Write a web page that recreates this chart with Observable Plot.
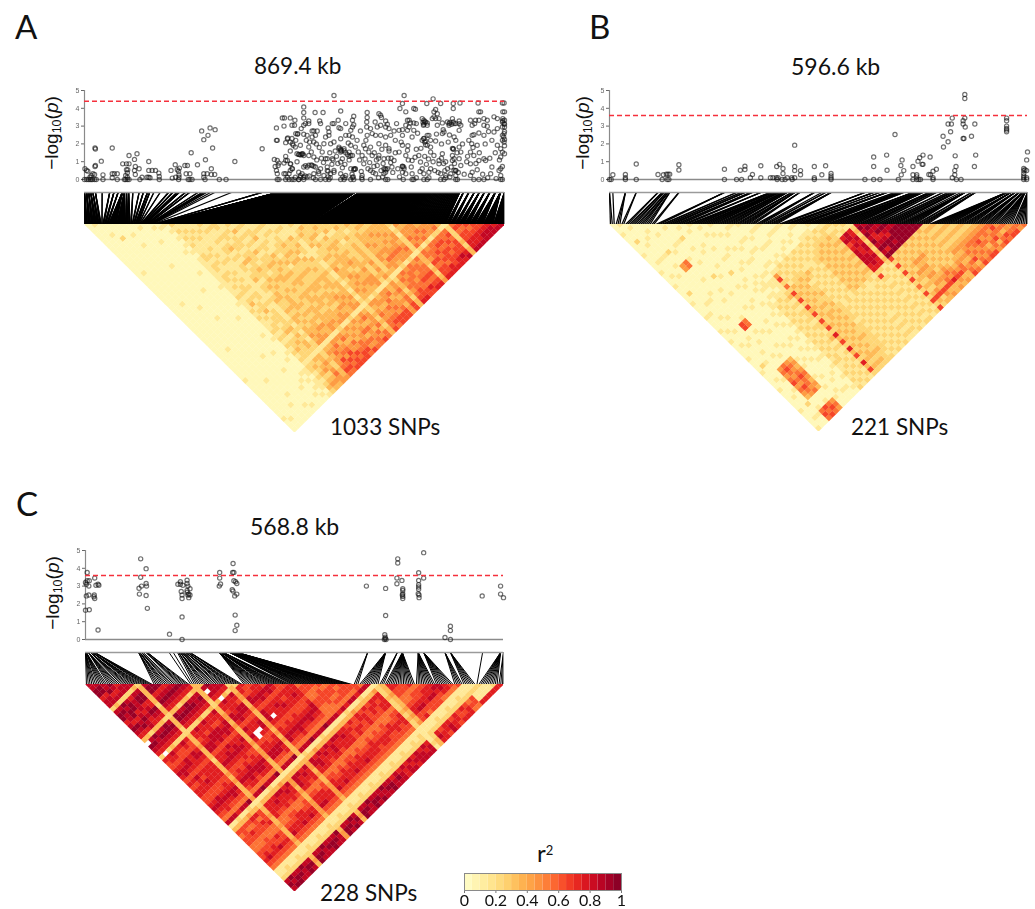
<!DOCTYPE html>
<html>
<head>
<meta charset="utf-8">
<script src="https://cdn.jsdelivr.net/npm/d3@7"></script>
<script src="https://cdn.jsdelivr.net/npm/@observablehq/plot@0.6"></script>
<style>
html,body{margin:0;padding:0;background:#fff}
#page{position:relative;width:1035px;height:909px;overflow:hidden;font-family:Lato,"Open Sans",sans-serif;color:#111}
#page svg{position:absolute;background:transparent;overflow:visible;font-family:"Liberation Sans",sans-serif;filter:blur(0.35px)}
.t{position:absolute;white-space:nowrap;line-height:1}
.yl{position:absolute;white-space:nowrap;line-height:1;font-family:"Liberation Sans",sans-serif;font-size:19px;transform:translate(-50%,-50%) rotate(-90deg)}
.yl sub{font-size:12.5px;vertical-align:-3px;line-height:0}
</style>
</head>
<body>
<div id="page"></div>
<script>
// Positions are % of each panel's genomic window; values are -log10(p).
const panelLetters = ["A","B","C"];
const spans = ["869.4 kb","596.6 kb","568.8 kb"];
const snpTotals = ["1033 SNPs","221 SNPs","228 SNPs"];
const thresholds = [4.4,3.6,3.6];
const yTicks = [0,1,2,3,4,5];
const legendTicks = [0,0.2,0.4,0.6,0.8,1];
const r2Bins = [0,0.05,0.1,0.15,0.2,0.25,0.3,0.35,0.4,0.45,0.5,0.55,0.6,0.65,0.7,0.75,0.8,0.85,0.9,0.95];

const snpA = [[.1,.6],[.5,.51],[.8,.47],[0,0],[.5,0],[.9,0],[1.3,0],[1.6,0],[1.9,0],[2.4,0],[2.8,0],[1.3,.13],[1.6,.23],[2,.32],[2.4,.28],[2.5,1.77],[2.6,1.71],[2.6,.79],[2.5,.73],[4,1.03],[4.4,.26],[4.4,0],[6.6,1.77],[6.6,.32],[7.1,.32],[7.8,.32],[6.6,.1],[7.8,0],[9.1,.88],[10,.88],[10.6,.88],[10.6,1.35],[10,.55],[10.3,.55],[10.2,.38],[9.8,.23],[10.2,.13],[9.5,0],[9.8,0],[10.2,0],[10.6,0],[11.9,1.13],[12.5,1.45],[12.1,.73],[13,.6],[11.9,.51],[12.1,.28],[13.2,0],[13.7,.13],[14.9,.13],[15.3,.13],[15.6,.1],[15.3,1.01],[15.3,.51],[16.1,.51],[16.9,.51],[17.7,.36],[17.8,.17],[17.8,0],[20.6,.51],[21.6,.83],[22.1,.55],[22.6,.64],[22.4,.47],[22.5,.26],[22.5,.13],[22.4,0],[20.9,.08],[21.7,.13],[23.9,.79],[24.5,.79],[24.2,.32],[25.1,.32],[24.7,0],[25.1,0],[25.6,0],[25.4,1.5],[26.9,.83],[27.9,2.73],[28.4,2.24],[29.4,2.48],[29.9,2.9],[31.1,2.8],[30.5,1.77],[28.8,1.11],[30.2,.6],[28.4,.32],[29.2,.32],[30.2,.28],[31,.28],[28.4,.13],[28.7,0],[32.1,0],[33.7,0],[35.8,1.01],[42.3,1.73],
[45.7,2.9],[47.1,3.46],[47.6,3.46],[49,3.46],[50.1,3.33],[49.4,3.05],[50,3.05],[47.5,3],[45.7,2.2],[45.9,2.2],[45.2,1.13],[45.9,1.07],[46.1,.79],[45.4,.73],[45.7,.51],[45.9,.32],[45.9,0],[47.9,1.3],[47.9,1.07],[47.5,.92],[49,1.6],[49.7,1.92],[50.2,1.82],[49,2.1],[47.9,2.07],[48.4,2.33],[50.8,2.58],[49.4,2.3],[49,.88],[49.4,.6],[47.9,.32],[49,.51],[50.2,.13],[47.9,0],[48.3,.13],[49.4,0],[51,0],[50.6,1.45],[50.6,1],
[59.4,4.72],[76.1,4.72],[83,4.53],[75.7,4.27],[81.5,4.27],[84.8,4.27],[87.8,4.27],[89.4,4.3],[93.7,4.3],[99.5,4.3],[99.9,4.3],[75.1,3.99],[78.4,3.99],[78.8,3.95],[87.8,3.99],[52.2,4.08],[52.2,3.76],[52.2,3.46],[54.9,3.76],[56.8,3.76],[61,3.85],[67.3,3.76],[67.3,3.48],[70.1,3.7],[70.5,3.61],[70.7,3.48],[76.5,3.8],[83.2,3.8],[83.6,3.93],[84,3.7],[93.9,3.8],[94.3,3.8],[99.6,3.8],[100,3.8],[53.4,3.29],[56,3.29],[56.2,3.14],[60.4,3.33],[59.4,3.14],[64.1,3.55],[63.8,3.33],[62.2,3.14],[64.1,3.08],[67.2,3.23],[67.2,2.95],[69.2,3.23],[71.7,3.29],[72.1,3.1],[74.3,3.14],[76.9,3.33],[77.3,3.33],[77.6,3.18],[78.4,3.18],[79,3.14],[80.4,3.42],[80.8,3.33],[81.2,3.23],[81.6,3.18],[80.7,3.05],[81.6,3.05],[83.2,3.52],[82.8,3.42],[83.6,3.42],[84.4,3.42],[85.2,3.18],[84,3.05],[86.4,3.23],[87.6,3.42],[87.8,3.23],[88.4,3.14],[89.2,3.29],[89.2,3.14],[91.9,3.33],[93.1,3.33],[92.3,3.05],[92.9,3.14],[93.9,3.33],[95.1,3.42],[95.9,3.33],[97.5,3.52],[98.3,3.42],[99.6,3.42],[100,3.33],[99.5,3.23],[99.9,3.14],
[52.6,3.14],[53.4,3.14],[52.2,3.05],[51.6,2.86],[54.6,2.73],[55.4,2.73],[54.2,2.73],[58,2.9],[59,3.14],[58.2,2.67],[60.6,2.91],[61,2.86],[63.8,2.95],[65.7,2.73],[63.4,2.76],[62.2,2.48],[68.1,2.86],[69.7,2.95],[70.5,3.05],[71.7,2.95],[72.5,2.86],[73.7,2.73],[74.9,2.76],[75.7,2.8],[76.5,3.05],[76.9,2.76],[77.3,2.95],[78.4,2.76],[81.6,2.48],[82,2.48],[85.4,2.8],[85.6,2.67],[86.8,3.05],[88,3.14],[89.6,3.05],[89.2,2.76],[92.3,2.48],[92.7,2.52],[93.9,2.61],[95.1,3.05],[95.9,2.99],[97.5,2.67],[98.3,2.86],[99.5,2.95],[100,2.95],[99.9,2.58],[99.5,2.48],[99.5,2.2],[99.9,2.11],
[50.3,2.58],[50.7,2.54],[52.2,2.54],[53,2.48],[54.2,2.39],[55,2.48],[57.4,2.39],[58.2,2.48],[59.4,2.11],[61,2.29],[63,2.48],[63.8,2.39],[67.3,2.48],[68.5,2.58],[69.3,2.48],[70.5,2.48],[71.7,2.39],[72.9,2.48],[75.7,2.48],[78,2.39],[80.8,2.29],[82.4,2.2],[83.6,2.16],[85.2,2.58],[88,2.39],[88.4,2.2],[91.5,2.2],[92.2,2.01],[93.5,1.92],[95.1,2.48],[98.3,1.92],[99.1,1.73],[99.5,1.54],
[48.3,2.29],[49.5,2.01],[51.4,1.92],[50.3,2.2],[53.4,1.82],[54.6,2.11],[57,2.01],[58.6,2.01],[60.6,1.82],[61,1.64],[61.8,1.73],[63.4,1.92],[64.5,1.82],[66.5,1.92],[66.9,1.73],[68.1,1.82],[70.1,2.01],[71.7,1.92],[72.5,1.73],[75.7,1.92],[76.9,1.64],[80.4,2.2],[81.2,2.16],[81.6,1.92],[82.4,1.82],[85.2,1.45],[87.8,1.73],[89.2,1.82],[89.6,1.54],[91.9,1.54],[92.7,1.35],[95.1,1.17],[95.5,1.07],[99.1,1.26],
[51.8,1.45],[51,1.41],[52.2,1.35],[53.4,1.35],[54.6,1.26],[56.6,1.54],[57.4,1.17],[57.8,1.17],[59,1.17],[61,1.54],[61.4,1.17],[63,1.54],[63.8,1.35],[66.1,1.35],[67.7,1.54],[68.5,1.35],[70.1,1.35],[71.3,1.17],[73.7,1.07],[74.9,1.54],[76.5,1.35],[78,1.07],[79.6,1.35],[80,.98],[82.4,1.54],[83.2,1.35],[84.4,1.07],[87.6,1.35],[88,1.17],[89.2,1.17],
[46.3,.92],[48.3,1.07],[49.1,.88],[49.5,.6],[51,.41],[52.2,.7],[53,.7],[54.2,.79],[55,.7],[56.2,.6],[57.8,.7],[59.4,.51],[61,.98],[61.4,.66],[63.4,.6],[64.1,.55],[64.5,.6],[66.5,.88],[68.9,.73],[69.7,.79],[71.3,.6],[72.1,.6],[75.7,.73],[76.1,.6],[80.4,.6],[82.4,.6],[84.4,.88],[86.4,.6],[87.6,1.07],[88.4,.51],[89.6,.79],[91.9,.88],[92.3,.41],[93.5,.55],[93.9,1.07],[99.1,.6],[99.5,.73],
[47.5,.32],[48.7,.32],[51.4,.23],[51.8,.32],[52.2,.13],[54.6,.32],[55.8,.32],[57,.23],[58.6,.32],[59.4,.41],[61,.32],[62.2,.23],[63.8,.13],[66.1,.23],[68.1,.51],[69.3,.32],[71.3,.32],[71.7,.41],[75.7,.41],[76.5,.32],[78,.32],[80.8,.32],[82,.41],[84.8,.32],[86,.23],[87.2,.32],[88.4,.23],[91.9,.23],[96.7,.32],[98.7,.51],[99.1,.23],
[46.3,0],[48.7,0],[49.9,0],[51,0],[51.4,.13],[52.2,0],[55,0],[56.2,0],[57.4,0],[58.2,0],[61,0],[61.8,0],[63.4,0],[64.1,0],[66.1,0],[68.1,0],[71.7,0],[72.2,0],[75.9,0],[78,0],[78.4,0],[80.8,0],[81.6,0],[84.8,0],[85.6,0],[88.4,0],[88.8,0],[92.7,0],[93.9,0],[95.1,0],[99.1,0],[99.5,0],
[51.1,1.41],[51.4,1.38],[51.7,1.41],[52,1.43],[60.6,1.75],[61,1.7],[61.2,1.6],[61.8,1.62],[62.2,1.5],[62.6,1.4],[63,1.3],[63.4,1.35],[64.2,.6],[64.4,.58],[52.6,.78],[53.4,.8],[54,.82],[54.6,.75],[57.8,.5],[58,.47],[71.6,.6],[71.8,.55],[75.7,.75],[76,.7],[88.4,.5],[88,.52],[87.6,1.75],[87.8,1.7],[80.8,2.3],[81,2.1],[81.2,1.95],[86.8,3.15],[87,3.2],[87.4,3.1],[80.6,3.2],[80.8,3.1],[81,3.25],[99.6,3.3],[100,3.1],[100,2.7],[99.8,2.4],[100,2.25],[52.5,.2],[53,.15],[53.5,.2],[54.5,.1],[58,.15],[58.5,.1],[61.5,.15],[62,.1],[64,.15],[66,.1],[70,.1],[71,.15],[75,.15],[79,.1],[82,.1],[86,.1],[87,.15],[96,.1],[98,.05],[69,1.5],[70,1.2],[72.5,1.6],[73,1.2],[74,2.2],[77,1.9],[79,1.7],[83,1],[85,2],[86,1],[90,2],[91,1],[94,1.5],[96.5,1.2],[97,.7],
[52.8,2.2],[53.6,2.1],[55.2,2],[55.9,1.8],[56.4,1.2],[56.9,.95],[58.9,.85],[59.7,1.6],[60,1.3],[60.3,.9],[62.8,2.05],[64.9,2.2],[65.2,1.55],[65.5,1.1],[65.9,.45],[67,2.2],[67.9,.95],[68.7,.4],[70.8,1.7],[71.1,.9],[72.9,.95],[73.4,.4],[74,1.5],[74.6,.6],[75.4,2.1],[77.1,1.1],[77.8,.7],[79.3,2.6],[80.1,1.75],[81,1.3],[81.4,.85],[83.8,2.55],[84.2,.4],[85,1.2],[85.8,.5],[86.6,2.1],[86.9,2.5],[87.3,.7],[88.7,1.5],[89,.4],[91.2,1.3],[92.5,1.8],[93.2,.9],[94.8,.3],[95.4,2],[96.2,2.7],[97,2.2],[97.8,1.5],[98.8,1.1],[100,1.9],[100,1.45],[54,1.55],[55.3,1.1],[55.7,.45],[58.4,1.5],[59.2,1.1],[62,.85],[63,1.1],[63.7,.3],[66.8,1.15],[67.5,.6],[69.5,1.1],[70.6,.5],[72.3,1.2],[73.2,.7],[78.7,1.25],[79.9,.45],[81.9,1.15],[83.4,.5],[85.5,.9],[88.1,.9],[90.4,.3]];

const snpB = [[0,0],[.4,0],[.8,.27],[3.8,0],[3.8,.1],[3.8,.28],[6.4,.87],[6.4,0],[11.6,.28],[12.6,0],[12.9,.27],[13.6,.3],[14,.3],[14.4,.3],[13.8,0],[14.2,0],[16.6,.83],[16.6,.53],[27.5,.58],[27.5,0],[30.4,0],[31.3,.52],[32.4,.75],[32.4,.56],[31.6,0],[33.7,.1],[34.2,.28],[36.2,.77],[36.2,.1],[38.5,.1],[39.1,.1],[39.9,.1],[40.3,.1],[40,.73],[40.7,.85],[41.5,.62],[41.5,.34],[40.1,0],[41.3,0],[42,0],[42.5,.1],[43.6,.1],[44.3,1.93],[44.3,.73],[44.3,.5],[44.3,.1],[45.7,.5],[45.7,.27],[43.7,0],[49,.73],[49,.1],[49,0],[50.8,.27],[51.7,.77],[53,.34],[53,.2],[53,.08],[53,0],[61.1,0],[63.2,0],[63.2,1.26],[63.2,.73],[64.7,0],[66.3,1.37],[66.4,.52],[68.3,2.53],[69.1,0],[69.7,.79],[69.8,.26],[70,1.1],[70.4,.5],[72.6,.73],[72.6,.27],[72.6,0],[74,0],[73.5,.27],[73.5,.15],[73.5,0],[74.4,0],[73.8,1.03],[74.2,1.22],[74.8,.85],[75,.85],[75,1.37],[76.7,1.26],[76.4,.28],[76.8,.27],[77.4,.1],[77.4,0],[77.4,.47],[78.2,.58],[79.9,1.83],[79.8,2.43],[81,2.12],[81,3.12],[81.6,2.68],[81.8,3.12],[82,3.45],[82,.1],[82.7,1.33],[82.9,.73],[82.6,.5],[82.6,.27],[83,0],[84.1,0],[85,4.78],[85,4.55],[84.6,3.12],[84.6,3.3],[85,3.45],[85.1,2.95],[84.6,2.3],[84.8,2.3],[86.6,2.43],[87.4,3.12],[87.6,1.37],[87.3,.73],[95,3.45],[95,3.3],[95,3],[95,2.87],[95,2.78],[95,2.68],[99.1,.62],[99.1,.5],[99.1,.34],[99.1,.2],[99.1,.1],[99.1,0],[99.4,.55],[99.8,.5],[99.8,0],[99.8,.1],[99.8,1.1],[100,1.55]];

const snpC = [[.4,3.76],[0,3.2],[.4,3.3],[.9,3.3],[.2,3.1],[.8,3],[.2,2.45],[.8,2.5],[0,1.65],[.9,1.67],[2.2,3.45],[3,3.1],[2.5,3.05],[3.2,3.05],[2,2.4],[2.2,2.3],[2.1,2.5],[3,.53],
[13.2,4.53],[14.5,3.98],[13.2,3.5],[13.4,3],[12.8,2.88],[12.9,2.55],[14.5,3.15],[14.6,3],[14.5,2.47],[14.8,1.75],
[20.1,.3],[23.1,0],[23.1,1.27],[22.1,3.1],[22.7,3.25],[22.7,3.1],[23.3,3.05],[24.3,3.33],[24.3,3.15],[22.9,2.7],[23.1,2.5],[23.1,2.3],[24.5,3],[25,2.85],[24.3,2.75],[24.7,2.55],[24.5,2.5],[25,2.5],[24.7,2.35],[24.3,2.65],
[32.1,3.77],[32.1,3.45],[32.3,3.12],[32,3],[35.3,4.27],[35.5,3.77],[35.2,3.77],[35.5,3.3],[35.9,3.25],[35.1,2.8],[35.3,2.72],[36.2,3.15],[36.2,2.55],[35.7,2.45],[35.8,1.37],[36.2,.8],[35.8,.5],
[67.2,3],[71.8,2.87],[71.8,1.35],[71.6,.27],[71.7,.13],[71.7,.05],[71.5,0],[71.9,0],[74.7,4.53],[74.7,4.3],[74.5,3.45],[74.5,3.13],[75.7,3.32],[75.9,2.85],[75.9,2.75],[75.9,2.57],[75.8,2.5],[75.9,2.42],[75.9,2.3],[79.7,3.75],[79.7,3.32],[79.7,3.08],[79.7,2.95],[79.7,2.82],[79.6,2.57],[79.8,2.5],[79.8,2.35],[80.9,4.88],[80.9,3.45],[86,.11],[87.3,.75],[87.3,.5],[87.3,0],[94.9,2.45],[99.3,3],[99.3,2.55],[100,2.35]];

// SNP clusters for the connector band: [position %, number of SNPs]
const bandA = [[0,8],[.5,8],[1,7],[1.5,8],[2,6],[2.6,5],[4.2,2],[6,4],[7,5],[8,5],[9,20],[9.5,22],[10,8],[10.5,5],[11.5,3],[13,3],[14,4],[15,5],[15.5,4],[16.5,2],[18,2],[20,3],[21,4],[22,3],[22.5,4],[24,3],[25,3],[27,2],[28,2],[28.5,2],[29,2],[30,1],[31,1],[35,1],[42.3,3],[46,10],
[46.3,8],[46.7,7],[47.1,9],[47.5,8],[47.9,8],[48.3,9],[48.7,7],[49.1,8],[49.5,9],[49.9,8],[50.3,7],[50.7,8],[51.1,9],[51.5,8],[51.9,8],[52.3,7],[52.7,9],[53.1,8],[53.5,8],[53.9,7],[54.3,9],[54.7,8],[55.1,8],[55.5,9],[55.9,7],[56.3,8],[56.7,8],[57.1,9],[57.5,7],[57.9,8],[58.3,8],[58.7,9],[59.1,8],[59.5,7],[59.9,8],[60.3,8],[60.7,9],[61.1,8],[61.5,7],[61.9,8],[62.3,9],[62.7,8],[63.1,7],[63.5,8],[63.9,8],[64.3,9],
[65.4,6],[65.8,5],[66.2,6],[66.6,5],[67,6],[67.4,5],[67.8,6],[68.2,5],[68.6,6],[69,5],[69.4,6],[69.8,6],[70.2,5],[70.6,6],[71,5],[71.4,6],[71.8,5],[72.2,6],[72.6,5],[73,6],[73.4,5],[73.8,6],[74.2,5],[74.6,6],[75,6],[75.4,5],[75.8,6],[76.2,5],[76.6,6],[77,5],[77.4,6],[77.8,5],[78.2,6],[78.6,5],[79,6],[79.4,6],[79.8,5],[80.2,6],[80.6,5],[81,6],[81.4,5],[81.8,6],[82.2,5],[82.6,6],[83,5],[83.4,6],[83.8,5],[84.2,6],[84.6,5],[85,6],[85.4,5],[85.8,6],[86.2,5],[86.6,6],[87,5],[87.4,6],[87.8,5],[88.2,6],[88.6,5],[89,6],[89.3,5],
[90.2,10],[91.5,11],[92.8,10],[94,14],[95.2,13],[96.5,14],[97.8,20],[99,25],[100,28]];
const bandB = [[0,2],[.8,1],[3.8,3],[6.4,2],[11.6,2],[12.6,2],[13,2],[13.6,2],[14,3],[14.4,3],[16.6,2],[27.5,3],[30.4,2],[31.5,2],[32.4,3],[33.7,2],[34.2,2],[36.2,3],[38.5,3],[39.1,3],[39.9,3],[40.3,3],[40.7,3],[41.5,4],[42,3],[42.5,3],[43.6,3],[44.3,5],[45.5,3],[49,4],[50.8,1],[51.7,2],[53,5],[61.1,3],[63.2,4],[64.7,2],[66.3,3],[66.4,2],[68.3,2],[69.1,2],[69.7,3],[70,2],[70.4,2],[72.6,4],[73.5,4],[74,2],[74.4,2],[74.8,3],[75,2],[76.4,2],[76.7,2],[77.4,4],[78.2,2],[79.8,2],[81,2],[81.6,1],[82,2],[82.7,2],[83,2],[84.1,1],[85,9],[86.6,2],[87.5,5],[95,12],[96,6],[97,6],[98,6],[98.8,6],[99.4,9],[100,8]];
const bandC = [[0,6],[.2,6],[.7,7],[1.2,6],[1.7,6],[2.2,6],[12.7,4],[13,4],[13.4,3],[13.8,2],[14.5,4],[14.8,3],[20,1],[21,1],[22,1],[22.3,3],[22.7,4],[23.1,4],[23.5,3],[24,4],[24.5,4],[25,4],[32,12],[32.5,8],[33,6],[34.5,5],[35,8],[35.5,8],[36,8],[36.3,5],[67.5,3],[71.8,11],[74.6,3],[75.8,17],[79.6,11],[80.9,10],[86,5],[87.3,7],[95,1],[99.3,11],[100,3]];

// Pairwise r2 (upper triangle, one string per SNP bin, right-aligned, tenths; "." = missing)
const ldA = [
"00000000000 0000000000 0000000000 0000000000 0000100000 0 00001000",
"1000000000 0000100000 0000000000 0000000000 0000000000 0 00000100",
"000100000 0000000000 0000100000 0000000100 0000000000 0 00000000",
"00002000 0000000000 0000000000 0000000000 0000000100 0 00010000",
"0000000 0000000000 0000000100 0000000000 0000000000 0 01000000",
"000100 1000000000 0000000000 0100000000 0000000000 0 00000100",
"00000 0000000100 0000000000 0000000000 0001000000 0 00000010",
"0100 0000000000 0000010000 0000000000 0000000010 0 00100000",
"000 0010000000 0000000000 0000100000 0000100000 0 01000100",
"01 0000000000 0010000000 0000000000 1000000100 0 10101010",
"0 1000000100 0000000100 0010000000 0010001000 0 11011101",
"1010101010 1111111111 1211121211 1212121212 1 22121232",
"212121211 2212212212 1212312121 2212122322 1 23232343",
"11212111 1212112121 2212122312 2123123222 1 32342343",
"1121211 2121211212 1212212122 2223232332 1 33434544",
"112111 1111211111 1111112111 1121212122 1 22322334",
"21211 2122121221 2312212322 3233233434 1 34344565",
"1211 2123121312 2212323322 3232323344 1 34546565",
"221 2212212322 3223232233 3323233434 1 45454656",
"11 2122212221 2212322322 2323232433 1 43456566",
"2 1312121312 2322332232 3223333344 1 45344656",
"1212121212 2323232322 3332323343 2 34354566",
"212231221 3232232332 3233323334 1 43435565",
"11211211 2123122322 3323232344 1 34344546",
"1212112 2232322322 3323332434 2 43453545",
"212122 3232322322 3232343433 1 34354455",
"11211 2223132232 3333234344 1 45343546",
"1211 3232213222 3223333434 1 34445355",
"111 1211111211 2112121212 1 22323233",
"21 2322312232 3433233433 2 43454556",
"1 3223232232 3233434343 1 44344565",
"2223122323 3332343433 2 34354566",
"232132332 3343233443 1 44545466",
"22312322 3233343444 1 45344566",
"2212212 2222322232 1 33434344",
"232232 3333343434 2 44545566",
"22122 2222222223 1 23323233",
"3223 3343344343 1 45454567",
"232 3334343544 1 54555667",
"32 3433344543 2 45545566",
"2 3343434544 1 55456576",
"3334344544 2 45556567",
"333443454 1 54556567",
"21212222 1 33323234",
"4344545 2 55465667",
"344454 1 45565667",
"44545 2 55656577",
"3454 1 56566667",
"444 2 56565677",
"45 2 55656687",
"3 1 56566678",
"1 22223233",
"56566778",
"6566778",
"656778",
"66788",
"6788",
"788",
"78",
"8"];
const ldB = [
"000100000100001 000100001000100 01001 0000100010 000100000100001",
"10000200000100 010000200000100 00100 0100000200 010000100000100",
"0100001000100 001000000010001 00010 0010000100 001001000200100",
"000010000100 100000000010000 10000 0100010000 454564543001565",
"00100000200 044000000100000 00066 0001000100 565454654000656",
"0001000010 055000100000100 00155 0100000010 454565545001565",
"000000100 010000000010000 00000 0010001000 343454343000454",
"01000100 000100020000100 01000 0001000100 010100100100100",
"0000200 100000001000000 00100 0100000010 001000010001000",
"010000 001000100000100 01000 0001000100 100100000100100",
"00100 010000000200010 00010 0100100010 010010001000100",
"1000 000100100000100 10001 1010010100 101010010010010",
"010 100000100010001 01010 1212121212 121212121121212",
"00 010001000100010 11011 2121212121 212121221212121",
"1 001000100010001 01101 1212121212 121212112121212",
"000100010010001 01111 2312122212 212312121212121",
"01000100100010 14625 2636263626 362736273627362",
"1000100100010 12121 3232323232 232323232323232",
"100010010001 21212 2323232323 323232323233232",
"00100010010 12122 3232322323 232323232323232",
"0100010001 21212 2312232232 323232232223222",
"100100010 12121 3212121212 222212222222212",
"00100100 21211 2121212121 121212121212121",
"0100010 12121 1212121212 212121212121212",
"100100 21212 2121212121 121212121212121",
"01001 12122 3232323232 212121212121212",
"1001 21223 2323232323 121212121212121",
"001 12232 3232323232 212121211212121",
"10 21223 2323232323 111212121212121",
"0 12232 3232323232 212121212121212",
"12122 3232323232 121212121212121",
"2121 7867888877 262121212121212",
"212 8878778887 212121212121212",
"21 7787887877 121212121212121",
"1 2323232323 212121212121212",
"8989898989 626262625262626",
"898778979 232323232323 6 32",
"98978999 323232432324 6 23",
"8987989 232343434343 6 43",
"989999 323243434343 6 34",
"89999 232343232345 6 33",
"9999 323232323454 7 34",
"999 232323232345 6 43",
"99 323232323234 6 34",
"9 232323232345 5 33",
"232323234343 4 56",
"32323234343 5 45",
"2323234454 6 34",
"323234545 4 56",
"23234554 5 45",
"3234565 4 56",
"234545 3 46",
"34554 5 54",
"4545 6 35",
"565 4 56",
"45 3 65",
"5 4 56",
"456",
"54",
"5"];
const ldC = [
"8899788 2 89978987 3 .987 2 76678767 6776678765 8 1 3 65665566765 112 898",
"899788 3 89887987 3 8987 . 77678867 6776678765 8 1 3 66665567865 112 989",
"88978 2 98997897 2 9887 2 87678768 7776688775 8 2 3 65765566765 122 899",
"9878 2 89978988 3 8987 3 76688767 6876678765 7 1 3 65665667765 112 898",
"788 2 78887877 3 8987 2 76677767 7776678765 8 1 4 76665566865 112 988",
"88 2 89978987 3 9987 2 87688767 7776778865 8 2 3 75765576765 122 899",
"8 3 89977987 2 8987 2 76678767 7776678765 9 1 3 66675566765 112 898",
"2 33333233 2 3332 2 33343332 3334343333 4 1 2 33433433343 112 343",
"89978987 3 9987 2 77678867 7876678765 8 1 3 77775567865 122 899",
"9978987 3 8987 2 87778867 7876778775 8 1 3 77765567765 112 898",
"978987 2 8987 2 77688767 8876678875 9 1 3 78765667765 112 988",
"78987 3 9987 3 87788868 7876788765 8 2 3 87775677865 122 898",
"8987 3 8987 2 77688767 8877678875 8 1 3 87765577765 112 899",
"987 2 8887 2 77678867 7876778875 8 1 4 78775567865 112 898",
"87 3 8987 3 87788767 8776678775 9 1 3 87765667765 122 988",
"3 3 3332 2 33443433 3343444333 3 1 3 44343344443 112 344",
"3 8.87 3 77688768 7876778865 8 1 3 88875677865 112 899",
"9887 . 87778867 7..6778865 8 1 3 87775677865 122 898",
"887 3 77788767 7.76678865 8 1 3 78765577765 112 989",
"87 2 87688767 8876778775 9 1 3 87775667765 112 898",
"2 3 34433433 3443434333 3 1 3 44343344443 122 343",
"2 77688768 8876778865 8 2 3 88775677865 112 899",
"76678767 7.76678765 8 1 3 78875667765 112 898",
"6778867 7776778765 8 1 4 87775567865 122 988",
"778767 8776678875 9 1 3 78765677765 112 899",
"68867 7876778765 8 1 3 87775567765 112 898",
"8767 6776678765 8 2 3 78875677865 122 889",
"667 7776678865 8 1 3 87765667765 112 988",
"67 7876678765 9 1 3 87775577765 112 898",
"7 7776788765 8 1 3 78775667865 122 899",
"5665566555 8 1 3 77775567765 112 788",
"665566555 8 1 3 67665567765 112 898",
"65666655 7 1 3 76775677765 122 788",
"6566565 8 2 3 66765567665 112 877",
"566565 7 1 4 77665667765 112 788",
"65665 8 1 3 67775567765 122 878",
"6665 8 1 3 76665667665 112 787",
"665 7 2 3 67765577665 112 888",
"66 8 1 3 77665567765 122 788",
"5 8 1 3 76775667665 112 878",
"8 1 4 77775677765 122 788",
"1 2 22322232322 111 121",
"3 33433343434 112 233",
"77665567766 112 787",
"7665567867 112 677",
"665667865 122 776",
"75667766 112 788",
"5677866 112 677",
"677866 122 776",
"78765 112 667",
"8875 112 767",
"775 122 677",
"65 112 565",
"6 112 665",
"112 117",
"12 117",
"2 117",
"117",
"27",
"7"];

const page = document.getElementById("page");
function addText(html, left, top, size, cls = "t") {
  const d = document.createElement("div");
  d.className = cls; d.innerHTML = html;
  d.style.left = left + "px"; d.style.top = top + "px";
  if (size) d.style.fontSize = size + "px";
  page.appendChild(d); return d;
}
function place(svg, left, top) {
  svg.style.left = left + "px"; svg.style.top = top + "px";
  page.appendChild(svg);
}
function ldCells(rows) {
  const N = rows.length, cells = [];
  rows.forEach((row, i) => {
    const s = row.replace(/\s/g, "");
    [...s].forEach((c, k) => {
      const j = N - s.length + k;
      if (j < i || c === ".") return;
      cells.push({pos: (i + j + 1) / 2, depth: (j - i) / 2, r2: (+c + 0.5) / 10});
    });
  });
  return cells;
}
const diamond = {draw(ctx, size) {
  const s = Math.sqrt(size / Math.PI);
  ctx.moveTo(0, -s); ctx.lineTo(s, 0); ctx.lineTo(0, s); ctx.lineTo(-s, 0); ctx.closePath();
}};
const r2Color = {type: "linear", scheme: "YlOrRd", domain: [0, 1]};

function panel({snps, band, ld, x0, x1, yTop, threshold, linkWidth}) {
  const W = x1 - x0;
  const pts = snps.map(([pos, p]) => ({pos, p}));
  place(Plot.plot({
    width: W + 40, height: 99, marginLeft: 30, marginRight: 10, marginTop: 5, marginBottom: 5,
    x: {domain: [0, 100], axis: null}, y: {domain: [0, 5]},
    marks: [
      Plot.axisY({ticks: yTicks, tickFormat: d => d, tickSize: 3, tickPadding: 2, fontSize: 7, color: "#666", label: null}),
      Plot.ruleX([0], {y1: 0, y2: 5, stroke: "#8a8a8a", strokeWidth: 1.2}),
      Plot.ruleY([0], {stroke: "#8a8a8a", strokeWidth: 1.4}),
      Plot.dot(pts, {x: "pos", y: "p", r: 2.1, stroke: "#111", strokeOpacity: 0.6, strokeWidth: 1.2, fill: "none"}),
      Plot.ruleY([threshold], {stroke: "#f5303c", strokeWidth: 1.5, strokeDasharray: "5,3"})
    ]
  }), x0 - 30, yTop - 5);
  const total = d3.sum(band, d => d[1]);
  const links = []; let k = 0;
  for (const [pos, n] of band) for (let m = 0; m < n; ++m) { links.push({pos, rank: (k + 0.5) / total * 100}); ++k; }
  place(Plot.plot({
    width: W, height: 32, margin: 0,
    x: {domain: [0, 100], axis: null}, y: {domain: [0, 1], reverse: true, axis: null},
    marks: [
      Plot.ruleX([100], {stroke: "#9a9a9a", strokeWidth: 1}),
      Plot.link(links, {x1: "pos", x2: "rank", y1: 0, y2: 1, stroke: "#000", strokeWidth: linkWidth, clip: true}),
      Plot.ruleY([0], {stroke: "#9a9a9a", strokeWidth: 1.4})
    ]
  }), x0, yTop + 102);
  const N = ld.length;
  place(Plot.plot({
    width: W, height: W / 2 - 2, margin: 0,
    x: {domain: [0, N], axis: null}, y: {domain: [0, N / 2], reverse: true, axis: null},
    color: r2Color,
    marks: [Plot.dot(ldCells(ld), {x: "pos", y: "depth", r: W / N / 2 * 1.04, symbol: diamond, fill: "r2", stroke: "none", clip: true})]
  }), x0, yTop + 134);
}

panel({snps: snpA, band: bandA, ld: ldA, x0: 84, x1: 504, yTop: 90, threshold: thresholds[0], linkWidth: 1.2});
panel({snps: snpB, band: bandB, ld: ldB, x0: 609, x1: 1027, yTop: 90, threshold: thresholds[1], linkWidth: 1.25});
panel({snps: snpC, band: bandC, ld: ldC, x0: 85, x1: 503, yTop: 550, threshold: thresholds[2], linkWidth: 1});

// r2 legend
place(Plot.plot({
  width: 157, height: 36, marginTop: 0, marginLeft: 0, marginRight: 0, marginBottom: 19,
  x: {domain: [0, 1]}, y: {domain: [0, 1], axis: null},
  color: r2Color,
  style: {fontFamily: "Lato", overflow: "visible"},
  marks: [
    Plot.axisX({ticks: legendTicks, tickFormat: d => d, tickSize: 3, tickPadding: 1, fontSize: 16, color: "#111", stroke: "#777", label: null}),
    Plot.rect(r2Bins, {x1: d => d, x2: d => d + 0.05, y1: 0, y2: 1, fill: d => d + 0.025}),
    Plot.frame({stroke: "#8a8a8a", strokeWidth: 1})
  ]
}), 464, 873);
addText('r<sup style="font-size:13px;vertical-align:7px;line-height:0">2</sup>', 537, 841, 24);

// Text
addText(panelLetters[0], 15, 10, 33);
addText(panelLetters[1], 589, 10, 33);
addText(panelLetters[2], 16, 487, 33);
addText(spans[0], 254, 55, 22.5);
addText(spans[1], 791, 55, 23);
addText(spans[2], 250, 515, 23);
addText(snpTotals[0], 330, 416, 22.5);
addText(snpTotals[1], 851, 416, 22.5);
addText(snpTotals[2], 320, 882, 22.5);
const yLab = '\u2212log<sub>10</sub>(<i>p</i>)';
addText(yLab, 51, 133, 0, "yl");
addText(yLab, 582, 133, 0, "yl");
addText(yLab, 52, 593, 0, "yl");
</script>
</body>
</html>
